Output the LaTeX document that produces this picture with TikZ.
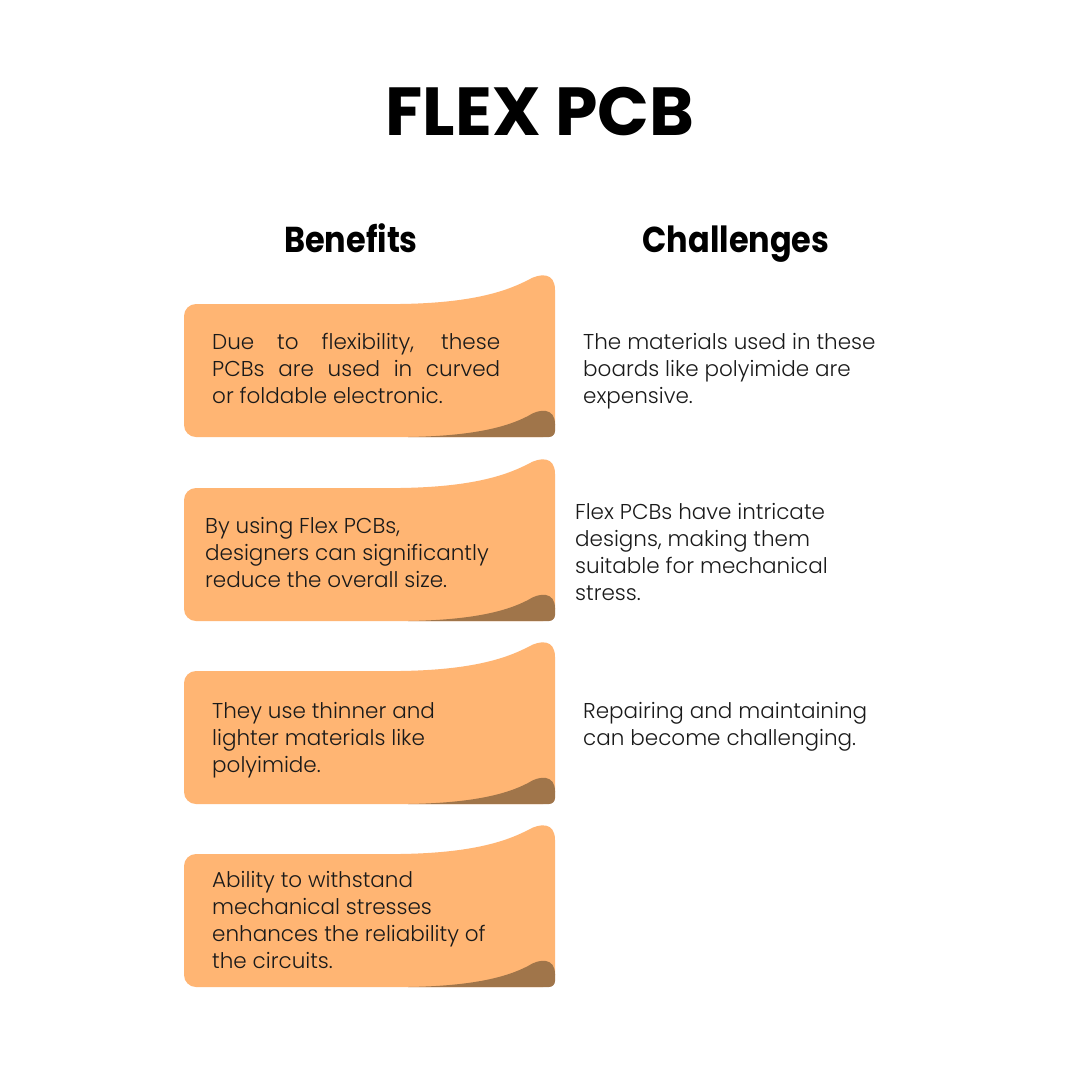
\documentclass[tikz,border=0pt]{standalone}
\usepackage{fontspec}
\usepackage{graphicx}
\setmainfont{Poppins}[UprightFont=* Light, BoldFont=* Bold]
\definecolor{boxor}{HTML}{FFB573}
\definecolor{curl}{HTML}{A0754A}
\definecolor{ink}{HTML}{1A1A1A}
\tikzset{
  body/.style={anchor=north west, inner sep=0pt, text=ink, font=\fontsize{21.5}{27}\selectfont, align=left},
  head/.style={anchor=base, inner sep=0pt, text=black, font=\bfseries\fontsize{36}{36}\selectfont},
}
\newcommand{\flexbox}[2]{%
  \begin{scope}[shift={(0,#1)}]
    \fill[boxor] (184,12) arc[start angle=180,end angle=270,radius=12] -- (400,0)
      .. controls (470,-1) and (505,-12) .. (528,-24)
      .. controls (540,-31) and (555,-32) .. (555,-14)
      -- (555,121) arc[start angle=0,end angle=90,radius=12] -- (196,133)
      arc[start angle=90,end angle=180,radius=12] -- cycle;
    \fill[curl] (408,133) .. controls (470,132) and (505,124) .. (528,112)
      .. controls (540,104) and (555,104) .. (555,120)
      -- (555,127) arc[start angle=0,end angle=90,radius=6] -- cycle;
    \coordinate (#2) at (184,0);
  \end{scope}}
\begin{document}
\begin{tikzpicture}[x=1pt,y=-1pt]
\useasboundingbox (0,0) rectangle (1080,1080);
\fill[white] (0,0) rectangle (1080,1080);
\flexbox{304}{b1}
\flexbox{488}{b2}
\flexbox{671}{b3}
\flexbox{854}{b4}
\node[head, font=\bfseries\fontsize{68}{68}\selectfont] (title) at (540,135) {FLEX PCB};
\node[head] (hb) at (351,252) {\scalebox{0.887}[1]{Benefits}};
\node[head] (hc) at (736,252) {\scalebox{0.887}[1]{Challenges}};
% left texts
\node[body, text width=288pt, align=justify] (t1) at (212,333) {Due to flexibility, these\linebreak PCBs are used in curved\linebreak or foldable electronic.};
\node[body] (t2) at (205,517) {By using Flex PCBs,\\designers can significantly\\reduce the overall size.};
\node[body] (t3) at (212,702) {They use thinner and\\lighter materials like\\polyimide.};
\node[body] (t4) at (212,871) {Ability to withstand\\mechanical stresses\\enhances the reliability of\\the circuits.};
% right texts
\node[body] (r1) at (583,333) {The materials used in these\\boards like polyimide are\\expensive.};
\node[body] (r2) at (575,503) {Flex PCBs have intricate\\designs, making them\\suitable for mechanical\\stress.};
\node[body] (r3) at (583,702) {Repairing and maintaining\\can become challenging.};
\end{tikzpicture}
\end{document}
